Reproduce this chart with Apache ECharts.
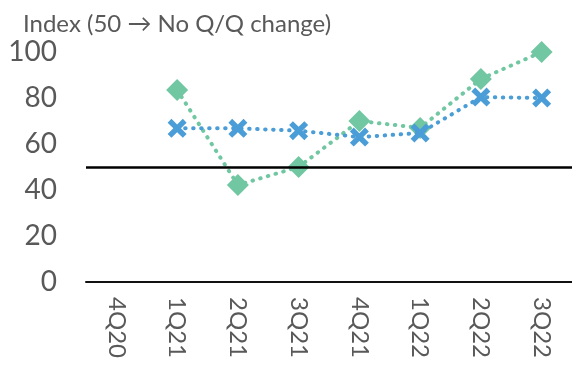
<!DOCTYPE html>
<html>
<head>
<meta charset="utf-8">
<script src="https://cdn.jsdelivr.net/npm/echarts@6/dist/echarts.min.js"></script>
<style>
  html, body { margin: 0; padding: 0; background: #fff; }
  #chart { width: 572px; height: 374px; }
</style>
</head>
<body>
<div id="chart"></div>
<script>
// Quarterly diffusion index, 50 = no quarter-on-quarter change
const quarters = ['4Q20', '1Q21', '2Q21', '3Q21', '4Q21', '1Q22', '2Q22', '3Q22'];
const blueSeries = [null, 66.8, 66.8, 65.8, 63.0, 64.8, 80.4, 80.0];
const greenSeries = [null, 83.5, 42.2, 50.0, 70.0, 67.0, 88.3, 100.0];
const yTicks = { min: 0, max: 100, interval: 20 };
const neutralLevel = 50;
const axisTitle = 'Index (50 \u2192 No Q/Q change)';

const BLUE = '#4A9DD6';
const GREEN = '#71C7A2';
const TEXT = '#595959';
const FONT = 'Lato';

// Cross marker built as a filled polygon in a 10x10 box
const t = 2;
const crossPath = 'path://M0,' + t + ' L' + t + ',0 L5,' + (5 - t) + ' L' + (10 - t) + ',0 L10,' + t +
  ' L' + (5 + t) + ',5 L10,' + (10 - t) + ' L' + (10 - t) + ',10 L5,' + (5 + t) +
  ' L' + t + ',10 L0,' + (10 - t) + ' L' + (5 - t) + ',5 Z';

const dotted = (color) => ({ color: color, width: 4, type: [0.5, 7.5], cap: 'round' });

const chart = echarts.init(document.getElementById('chart'), null, { renderer: 'canvas' });
chart.setOption({
  animation: false,
  backgroundColor: '#fff',
  title: {
    text: axisTitle,
    left: 18,
    top: 7,
    textStyle: { fontFamily: FONT, fontSize: 24, fontWeight: 'normal', color: TEXT }
  },
  grid: { left: 86, right: -7, top: 52, bottom: 92, containLabel: false },
  xAxis: {
    type: 'category',
    data: quarters,
    boundaryGap: true,
    axisLine: { lineStyle: { color: '#111', width: 2 } },
    axisTick: { show: false },
    axisLabel: {
      rotate: -90,
      margin: 15,
      interval: 0,
      fontFamily: FONT,
      fontSize: 24,
      color: TEXT
    },
    splitLine: { show: false }
  },
  yAxis: {
    type: 'value',
    min: yTicks.min,
    max: yTicks.max,
    interval: yTicks.interval,
    axisLine: { show: false },
    axisTick: { show: false },
    splitLine: { show: false },
    axisLabel: { margin: 29, fontFamily: FONT, fontSize: 28, color: TEXT }
  },
  series: [
    {
      name: 'Green',
      type: 'line',
      data: greenSeries,
      symbol: 'diamond',
      symbolSize: 22,
      lineStyle: dotted(GREEN),
      itemStyle: { color: GREEN },
      z: 3,
      markLine: {
        silent: true,
        symbol: ['none', 'none'],
        label: { show: false },
        lineStyle: { color: '#000', width: 2.5, type: 'solid' },
        data: [{ yAxis: neutralLevel }]
      }
    },
    {
      name: 'Blue',
      type: 'line',
      data: blueSeries,
      symbol: crossPath,
      symbolSize: 19,
      lineStyle: dotted(BLUE),
      itemStyle: { color: BLUE },
      z: 4
    }
  ]
});
</script>
</body>
</html>
